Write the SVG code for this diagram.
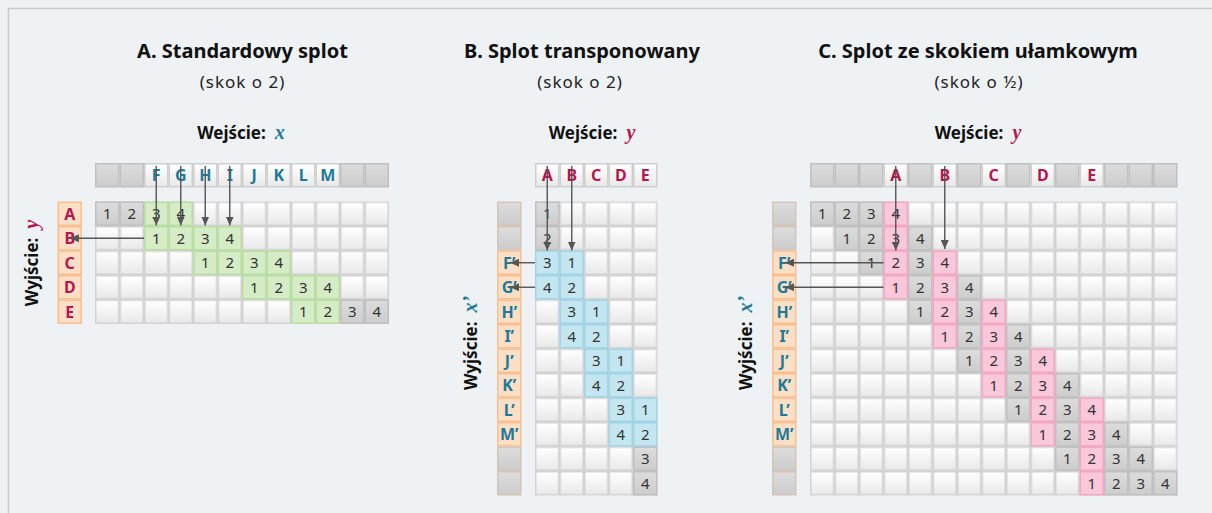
<svg xmlns="http://www.w3.org/2000/svg" xmlns:xlink="http://www.w3.org/1999/xlink" width="1212" height="513" viewBox="0 0 1212 513">
<style>
.t{font-family:"Noto Sans","Open Sans",sans-serif;font-weight:bold;font-size:20px;fill:#111;text-anchor:middle}
.s{font-family:"Noto Sans","Open Sans",sans-serif;font-size:17px;fill:#222;text-anchor:middle;letter-spacing:1px}
.w{font-family:"Noto Sans","Open Sans",sans-serif;font-weight:bold;font-size:17px;fill:#111;text-anchor:middle}
.v{font-family:"Liberation Serif",serif;font-style:italic;font-weight:bold;font-size:20px}
.n{font-family:"Noto Sans","Open Sans",sans-serif;font-size:15px;fill:#333;text-anchor:middle}
.L{font-family:"Noto Sans","Open Sans",sans-serif;font-weight:bold;font-size:16px;text-anchor:middle}
.tl{fill:#1d7a9a}
.cr{fill:#b8164f}
.ar{fill:none;stroke:#555;stroke-width:1.4;marker-end:url(#ah)}
</style>
<defs>
<linearGradient id="gw" x1="0" y1="0" x2="0" y2="1"><stop offset="0" stop-color="#ffffff"/><stop offset="1" stop-color="#e9e9e9"/></linearGradient>
<linearGradient id="gg" x1="0" y1="0" x2="0" y2="1"><stop offset="0" stop-color="#dcdcdc"/><stop offset="1" stop-color="#cdcdcd"/></linearGradient>
<pattern id="wc" patternUnits="userSpaceOnUse" width="24.5" height="24.5">
<rect width="24.5" height="24.5" fill="#d3d3d3"/><rect x="1.5" y="1.5" width="21.5" height="21.5" fill="url(#gw)"/>
</pattern>
<g id="cw"><rect width="24.5" height="24.5" fill="#cfcfcf"/><rect x="1.5" y="1.5" width="21.5" height="21.5" fill="url(#gw)"/></g>
<g id="cg"><rect width="24.5" height="24.5" fill="#c0c0c0"/><rect x="1.5" y="1.5" width="21.5" height="21.5" fill="url(#gg)"/></g>
<g id="cgr"><rect width="24.5" height="24.5" fill="#b9dea1"/><rect x="1.5" y="1.5" width="21.5" height="21.5" fill="#d6ecc7"/></g>
<g id="cb"><rect width="24.5" height="24.5" fill="#a2d4e5"/><rect x="1.5" y="1.5" width="21.5" height="21.5" fill="#c4e6f1"/></g>
<g id="cp"><rect width="24.5" height="24.5" fill="#f3a7c3"/><rect x="1.5" y="1.5" width="21.5" height="21.5" fill="#fbc7da"/></g>
<g id="co"><rect width="24.5" height="24.5" fill="#f8bf90"/><rect x="1.5" y="1.5" width="21.5" height="21.5" fill="#fddfc6"/></g>
<g id="clg"><rect width="24.5" height="24.5" fill="#d4c5b8"/><rect x="1.5" y="1.5" width="21.5" height="21.5" fill="url(#gg)"/></g>
<marker id="ah" markerUnits="userSpaceOnUse" markerWidth="9" markerHeight="8" refX="9" refY="4" orient="auto"><path d="M0,0 L9,4 L0,8 z" fill="#555"/></marker>
</defs>
<rect x="0" y="0" width="1212" height="513" fill="#eef2f4"/>
<path d="M8.5,513 V8.5 H1212" fill="none" stroke="#c6cbce" stroke-width="1.5"/>

<!-- Panel A -->
<g id="panelA">
<text class="t" x="242.5" y="58">A. Standardowy splot</text>
<text class="s" x="242.5" y="88">(skok o 2)</text>
<text class="w" x="241" y="139">Wejście:<tspan class="v tl" dx="9">x</tspan></text>
<g transform="translate(38,263) rotate(-90)"><text class="w" x="0" y="0">Wyjście:<tspan class="v cr" dx="9">y</tspan></text></g>
<g id="A-input" transform="translate(95,163)">
<use href="#cg" x="0"/><use href="#cg" x="24.5"/>
<use href="#cw" x="49"/><use href="#cw" x="73.5"/><use href="#cw" x="98"/><use href="#cw" x="122.5"/><use href="#cw" x="147"/><use href="#cw" x="171.5"/><use href="#cw" x="196"/><use href="#cw" x="220.5"/>
<use href="#cg" x="245"/><use href="#cg" x="269.5"/>
<g class="L tl"><text x="61.25" y="18">F</text><text x="85.75" y="18">G</text><text x="110.25" y="18">H</text><text x="134.75" y="18">I</text><text x="159.25" y="18">J</text><text x="183.75" y="18">K</text><text x="208.25" y="18">L</text><text x="232.75" y="18">M</text></g>
</g>
<g id="A-labels" transform="translate(57.5,201.5)">
<use href="#co" y="0"/><use href="#co" y="24.5"/><use href="#co" y="49"/><use href="#co" y="73.5"/><use href="#co" y="98"/>
<g class="L cr"><text x="12.25" y="18">A</text><text x="12.25" y="42.5">B</text><text x="12.25" y="67">C</text><text x="12.25" y="91.5">D</text><text x="12.25" y="116">E</text></g>
</g>
<g id="A-grid" transform="translate(95,201.5)">
<rect width="294" height="122.5" fill="url(#wc)"/>
<use href="#cg" x="0" y="0"/><use href="#cg" x="24.5" y="0"/><use href="#cg" x="245" y="98"/><use href="#cg" x="269.5" y="98"/>
<use href="#cgr" x="49" y="0"/><use href="#cgr" x="73.5" y="0"/>
<use href="#cgr" x="49" y="24.5"/><use href="#cgr" x="73.5" y="24.5"/><use href="#cgr" x="98" y="24.5"/><use href="#cgr" x="122.5" y="24.5"/>
<use href="#cgr" x="98" y="49"/><use href="#cgr" x="122.5" y="49"/><use href="#cgr" x="147" y="49"/><use href="#cgr" x="171.5" y="49"/>
<use href="#cgr" x="147" y="73.5"/><use href="#cgr" x="171.5" y="73.5"/><use href="#cgr" x="196" y="73.5"/><use href="#cgr" x="220.5" y="73.5"/>
<use href="#cgr" x="196" y="98"/><use href="#cgr" x="220.5" y="98"/>
<g class="n">
<text x="12.25" y="17.5">1</text><text x="36.75" y="17.5">2</text><text x="61.25" y="17.5">3</text><text x="85.75" y="17.5">4</text>
<text x="61.25" y="42">1</text><text x="85.75" y="42">2</text><text x="110.25" y="42">3</text><text x="134.75" y="42">4</text>
<text x="110.25" y="66.5">1</text><text x="134.75" y="66.5">2</text><text x="159.25" y="66.5">3</text><text x="183.75" y="66.5">4</text>
<text x="159.25" y="91">1</text><text x="183.75" y="91">2</text><text x="208.25" y="91">3</text><text x="232.75" y="91">4</text>
<text x="208.25" y="115.5">1</text><text x="232.75" y="115.5">2</text><text x="257.25" y="115.5">3</text><text x="281.75" y="115.5">4</text>
</g>
</g>
</g>

<!-- Panel B -->
<g id="panelB">
<text class="t" x="582" y="58">B. Splot transponowany</text>
<text class="s" x="580" y="88">(skok o 2)</text>
<text class="w" x="592" y="139">Wejście:<tspan class="v cr" dx="9">y</tspan></text>
<g transform="translate(477,343) rotate(-90)"><text class="w" x="0" y="0">Wyjście:<tspan class="v tl" dx="9">x’</tspan></text></g>
<g id="B-input" transform="translate(535,163)">
<use href="#cw" x="0"/><use href="#cw" x="24.5"/><use href="#cw" x="49"/><use href="#cw" x="73.5"/><use href="#cw" x="98"/>
<g class="L cr"><text x="12.25" y="18">A</text><text x="36.75" y="18">B</text><text x="61.25" y="18">C</text><text x="85.75" y="18">D</text><text x="110.25" y="18">E</text></g>
</g>
<g id="B-labels" transform="translate(497,201.5)">
<use href="#clg" y="0"/><use href="#clg" y="24.5"/>
<use href="#co" y="49"/><use href="#co" y="73.5"/><use href="#co" y="98"/><use href="#co" y="122.5"/><use href="#co" y="147"/><use href="#co" y="171.5"/><use href="#co" y="196"/><use href="#co" y="220.5"/>
<use href="#clg" y="245"/><use href="#clg" y="269.5"/>
<g class="L tl"><text x="12.25" y="67">F’</text><text x="12.25" y="91.5">G’</text><text x="12.25" y="116">H’</text><text x="12.25" y="140.5">I’</text><text x="12.25" y="165">J’</text><text x="12.25" y="189.5">K’</text><text x="12.25" y="214">L’</text><text x="12.25" y="238.5">M’</text></g>
</g>
<g id="B-grid" transform="translate(535,201.5)">
<rect width="122.5" height="294" fill="url(#wc)"/>
<use href="#cg" x="0" y="0"/><use href="#cg" x="0" y="24.5"/><use href="#cg" x="98" y="245"/><use href="#cg" x="98" y="269.5"/>
<use href="#cb" x="0" y="49"/><use href="#cb" x="24.5" y="49"/><use href="#cb" x="0" y="73.5"/><use href="#cb" x="24.5" y="73.5"/>
<use href="#cb" x="24.5" y="98"/><use href="#cb" x="49" y="98"/><use href="#cb" x="24.5" y="122.5"/><use href="#cb" x="49" y="122.5"/>
<use href="#cb" x="49" y="147"/><use href="#cb" x="73.5" y="147"/><use href="#cb" x="49" y="171.5"/><use href="#cb" x="73.5" y="171.5"/>
<use href="#cb" x="73.5" y="196"/><use href="#cb" x="98" y="196"/><use href="#cb" x="73.5" y="220.5"/><use href="#cb" x="98" y="220.5"/>
<g class="n">
<text x="12.25" y="17.5">1</text><text x="12.25" y="42">2</text>
<text x="12.25" y="66.5">3</text><text x="36.75" y="66.5">1</text><text x="12.25" y="91">4</text><text x="36.75" y="91">2</text>
<text x="36.75" y="115.5">3</text><text x="61.25" y="115.5">1</text><text x="36.75" y="140">4</text><text x="61.25" y="140">2</text>
<text x="61.25" y="164.5">3</text><text x="85.75" y="164.5">1</text><text x="61.25" y="189">4</text><text x="85.75" y="189">2</text>
<text x="85.75" y="213.5">3</text><text x="110.25" y="213.5">1</text><text x="85.75" y="238">4</text><text x="110.25" y="238">2</text>
<text x="110.25" y="262.5">3</text><text x="110.25" y="287">4</text>
</g>
</g>
</g>

<!-- Panel C -->
<g id="panelC">
<text class="t" x="978" y="58">C. Splot ze skokiem ułamkowym</text>
<text class="s" x="979" y="88">(skok o ½)</text>
<text class="w" x="978" y="139">Wejście:<tspan class="v cr" dx="9">y</tspan></text>
<g transform="translate(752,343) rotate(-90)"><text class="w" x="0" y="0">Wyjście:<tspan class="v tl" dx="9">x’</tspan></text></g>
<g id="C-input" transform="translate(810,163)">
<use href="#cg" x="0"/><use href="#cg" x="24.5"/><use href="#cg" x="49"/><use href="#cw" x="73.5"/><use href="#cg" x="98"/><use href="#cw" x="122.5"/><use href="#cg" x="147"/><use href="#cw" x="171.5"/><use href="#cg" x="196"/><use href="#cw" x="220.5"/><use href="#cg" x="245"/><use href="#cw" x="269.5"/><use href="#cg" x="294"/><use href="#cg" x="318.5"/><use href="#cg" x="343"/>
<g class="L cr"><text x="85.75" y="18">A</text><text x="134.75" y="18">B</text><text x="183.75" y="18">C</text><text x="232.75" y="18">D</text><text x="281.75" y="18">E</text></g>
</g>
<g id="C-labels" transform="translate(772,201.5)">
<use href="#clg" y="0"/><use href="#clg" y="24.5"/>
<use href="#co" y="49"/><use href="#co" y="73.5"/><use href="#co" y="98"/><use href="#co" y="122.5"/><use href="#co" y="147"/><use href="#co" y="171.5"/><use href="#co" y="196"/><use href="#co" y="220.5"/>
<use href="#clg" y="245"/><use href="#clg" y="269.5"/>
<g class="L tl"><text x="12.25" y="67">F’</text><text x="12.25" y="91.5">G’</text><text x="12.25" y="116">H’</text><text x="12.25" y="140.5">I’</text><text x="12.25" y="165">J’</text><text x="12.25" y="189.5">K’</text><text x="12.25" y="214">L’</text><text x="12.25" y="238.5">M’</text></g>
</g>
<g id="C-grid" transform="translate(810,201.5)">
<rect width="367.5" height="294" fill="url(#wc)"/>
<use href="#cg" x="0" y="0"/><use href="#cg" x="24.5" y="0"/><use href="#cg" x="49" y="0"/>
<use href="#cg" x="24.5" y="24.5"/><use href="#cg" x="49" y="24.5"/><use href="#cg" x="98" y="24.5"/>
<use href="#cg" x="49" y="49"/><use href="#cg" x="98" y="49"/>
<use href="#cg" x="98" y="73.5"/><use href="#cg" x="147" y="73.5"/>
<use href="#cg" x="98" y="98"/><use href="#cg" x="147" y="98"/>
<use href="#cg" x="147" y="122.5"/><use href="#cg" x="196" y="122.5"/>
<use href="#cg" x="147" y="147"/><use href="#cg" x="196" y="147"/>
<use href="#cg" x="196" y="171.5"/><use href="#cg" x="245" y="171.5"/>
<use href="#cg" x="196" y="196"/><use href="#cg" x="245" y="196"/>
<use href="#cg" x="245" y="220.5"/><use href="#cg" x="294" y="220.5"/>
<use href="#cg" x="245" y="245"/><use href="#cg" x="294" y="245"/><use href="#cg" x="318.5" y="245"/>
<use href="#cg" x="294" y="269.5"/><use href="#cg" x="318.5" y="269.5"/><use href="#cg" x="343" y="269.5"/>
<use href="#cp" x="73.5" y="0"/><use href="#cp" x="73.5" y="24.5"/><use href="#cp" x="73.5" y="49"/><use href="#cp" x="73.5" y="73.5"/>
<use href="#cp" x="122.5" y="49"/><use href="#cp" x="122.5" y="73.5"/><use href="#cp" x="122.5" y="98"/><use href="#cp" x="122.5" y="122.5"/>
<use href="#cp" x="171.5" y="98"/><use href="#cp" x="171.5" y="122.5"/><use href="#cp" x="171.5" y="147"/><use href="#cp" x="171.5" y="171.5"/>
<use href="#cp" x="220.5" y="147"/><use href="#cp" x="220.5" y="171.5"/><use href="#cp" x="220.5" y="196"/><use href="#cp" x="220.5" y="220.5"/>
<use href="#cp" x="269.5" y="196"/><use href="#cp" x="269.5" y="220.5"/><use href="#cp" x="269.5" y="245"/><use href="#cp" x="269.5" y="269.5"/>
<g class="n">
<text x="12.25" y="17.5">1</text><text x="36.75" y="17.5">2</text><text x="61.25" y="17.5">3</text><text x="85.75" y="17.5">4</text>
<text x="36.75" y="42">1</text><text x="61.25" y="42">2</text><text x="85.75" y="42">3</text><text x="110.25" y="42">4</text>
<text x="61.25" y="66.5">1</text><text x="85.75" y="66.5">2</text><text x="110.25" y="66.5">3</text><text x="134.75" y="66.5">4</text>
<text x="85.75" y="91">1</text><text x="110.25" y="91">2</text><text x="134.75" y="91">3</text><text x="159.25" y="91">4</text>
<text x="110.25" y="115.5">1</text><text x="134.75" y="115.5">2</text><text x="159.25" y="115.5">3</text><text x="183.75" y="115.5">4</text>
<text x="134.75" y="140">1</text><text x="159.25" y="140">2</text><text x="183.75" y="140">3</text><text x="208.25" y="140">4</text>
<text x="159.25" y="164.5">1</text><text x="183.75" y="164.5">2</text><text x="208.25" y="164.5">3</text><text x="232.75" y="164.5">4</text>
<text x="183.75" y="189">1</text><text x="208.25" y="189">2</text><text x="232.75" y="189">3</text><text x="257.25" y="189">4</text>
<text x="208.25" y="213.5">1</text><text x="232.75" y="213.5">2</text><text x="257.25" y="213.5">3</text><text x="281.75" y="213.5">4</text>
<text x="232.75" y="238">1</text><text x="257.25" y="238">2</text><text x="281.75" y="238">3</text><text x="306.25" y="238">4</text>
<text x="257.25" y="262.5">1</text><text x="281.75" y="262.5">2</text><text x="306.25" y="262.5">3</text><text x="330.75" y="262.5">4</text>
<text x="281.75" y="287">1</text><text x="306.25" y="287">2</text><text x="330.75" y="287">3</text><text x="355.25" y="287">4</text>
</g>
</g>
</g>

<g id="connectors">
<path class="ar" d="M156.25,166 V225.5"/>
<path class="ar" d="M180.75,166 V225.5"/>
<path class="ar" d="M205.25,166 V225.5"/>
<path class="ar" d="M229.75,166 V225.5"/>
<path class="ar" d="M144,238.25 H70"/>
<path class="ar" d="M547.25,166 V250.5"/>
<path class="ar" d="M571.75,166 V250.5"/>
<path class="ar" d="M535,262.75 H510"/>
<path class="ar" d="M535,287.25 H510"/>
<path class="ar" d="M895.75,166 V250.5"/>
<path class="ar" d="M944.75,166 V249"/>
<path class="ar" d="M883.5,262.75 H785"/>
<path class="ar" d="M883.5,287.25 H785"/>
</g>
</svg>
